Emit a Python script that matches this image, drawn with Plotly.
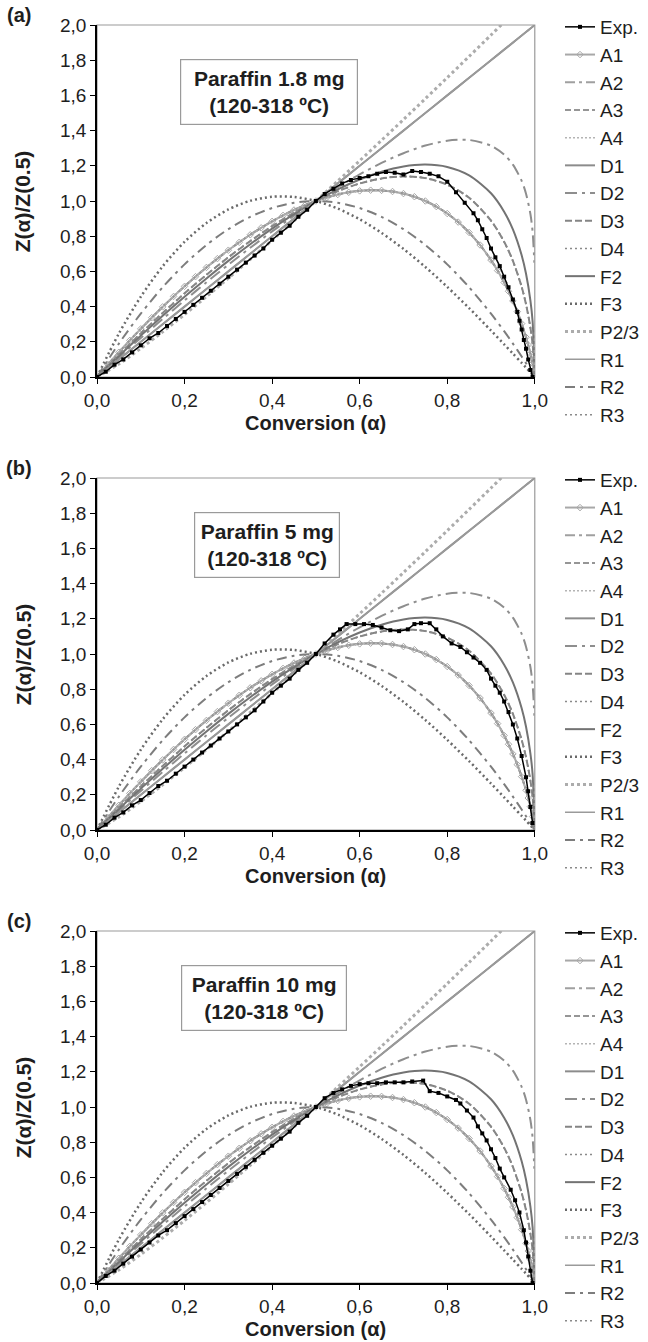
import plotly.graph_objects as go

# ---------------- data ----------------
alpha_model = [0, 0.05, 0.1, 0.15, 0.2, 0.25, 0.3, 0.35, 0.4, 0.45, 0.5, 0.55, 0.6, 0.65,
               0.7, 0.75, 0.8, 0.85, 0.9, 0.93, 0.95, 0.97, 0.98, 0.99, 0.995, 1.0]
alpha_D2 = [0, 0.05, 0.1, 0.15, 0.2, 0.25, 0.3, 0.35, 0.4, 0.45, 0.5, 0.55, 0.6, 0.65,
            0.7, 0.75, 0.8, 0.85, 0.9, 0.93, 0.95, 0.97, 0.98, 0.99, 0.995, 0.999]
alpha_A = [0, 0.025, 0.05, 0.075, 0.1, 0.125, 0.15, 0.175, 0.2, 0.225, 0.25, 0.275, 0.3,
           0.325, 0.35, 0.375, 0.4, 0.425, 0.45, 0.475, 0.5, 0.525, 0.55, 0.575, 0.6, 0.625,
           0.65, 0.675, 0.7, 0.725, 0.75, 0.775, 0.8, 0.825, 0.85, 0.875, 0.9, 0.915, 0.93,
           0.94, 0.95, 0.96, 0.97, 0.98, 0.985, 0.99, 0.995, 1.0]

z_A = [0, 0.0712, 0.1406, 0.2081, 0.2736, 0.3371, 0.3986, 0.4579, 0.5151, 0.5700,
       0.6226, 0.6727, 0.7204, 0.7655, 0.8080, 0.8476, 0.8844, 0.9181, 0.9488, 0.9761,
       1.0, 1.0203, 1.0368, 1.0493, 1.0576, 1.0613, 1.0602, 1.0540, 1.0422, 1.0244,
       1.0, 0.9684, 0.9288, 0.8801, 0.8211, 0.7500, 0.6644, 0.6046, 0.5371, 0.4871,
       0.4322, 0.3715, 0.3035, 0.2258, 0.1818, 0.1329, 0.0764, 0.0]
z_line = [0, 0.1, 0.2, 0.3, 0.4, 0.5, 0.6, 0.7, 0.8, 0.9, 1.0, 1.1, 1.2, 1.3, 1.4, 1.5, 1.6,
          1.7, 1.8, 1.86, 1.9, 1.94, 1.96, 1.98, 1.99, 2.0]
z_P23 = [0, 0.0741, 0.1623, 0.2565, 0.3551, 0.4569, 0.5615, 0.6683, 0.7772, 0.8877, 1.0,
         1.1137, 1.2288, 1.3451, 1.4626, 1.5812, 1.7008, 1.8214, 1.9430, 2.0163, 2.0654,
         2.1141, 2.139, 2.164, 2.17, 0.0]
z_D2 = [0, 0.1120, 0.2220, 0.3297, 0.4351, 0.5378, 0.6377, 0.7342, 0.8271, 0.9160, 1.0,
        1.0790, 1.1514, 1.2162, 1.2716, 1.3150, 1.3424, 1.3468, 1.3144, 1.2640, 1.2070,
        1.1144, 1.0416, 0.9262, 0.8260, 0.65]
z_F2 = [0, 0.1192, 0.2351, 0.3474, 0.4559, 0.5602, 0.6599, 0.7543, 0.8430, 0.9252, 1.0,
        1.0662, 1.1224, 1.1666, 1.1961, 1.2071, 1.1937, 1.1458, 1.0441, 0.9395, 0.8383,
        0.6915, 0.5863, 0.4346, 0.3173, 0.0]
z_D3 = [0, 0.1261, 0.2475, 0.3640, 0.4753, 0.5808, 0.6800, 0.7723, 0.8570, 0.9332, 1.0,
        1.0559, 1.0994, 1.1284, 1.1399, 1.1300, 1.0926, 1.0181, 0.8883, 0.7683, 0.6596,
        0.5121, 0.4131, 0.2802, 0.1865, 0.0]
z_F3 = [0, 0.2470, 0.4560, 0.6290, 0.7680, 0.8750, 0.9520, 1.0010, 1.0240, 1.0230, 1.0,
        0.9570, 0.8960, 0.8190, 0.7280, 0.6250, 0.5120, 0.3910, 0.2640, 0.1858, 0.1330,
        0.0799, 0.0533, 0.0267, 0.0133, 0.0]
z_R2 = [0, 0.19, 0.36, 0.51, 0.64, 0.75, 0.84, 0.91, 0.96, 0.99, 1.0, 0.99, 0.96, 0.91, 0.84,
        0.75, 0.64, 0.51, 0.36, 0.2604, 0.19, 0.1164, 0.0784, 0.0396, 0.0199, 0.0]

exp_a_alpha = [0, 0.02, 0.04, 0.06, 0.08, 0.10, 0.12, 0.14, 0.16, 0.18,
               0.20, 0.22, 0.24, 0.26, 0.28, 0.30, 0.32, 0.34, 0.36, 0.38,
               0.40, 0.42, 0.44, 0.46, 0.48, 0.50, 0.52, 0.54, 0.56, 0.58,
               0.60, 0.62, 0.64, 0.66, 0.68, 0.70, 0.72, 0.74, 0.76, 0.78,
               0.80, 0.82, 0.84, 0.86, 0.87, 0.88, 0.89, 0.90, 0.91, 0.92,
               0.93, 0.94, 0.95, 0.96, 0.965, 0.97, 0.975, 0.98, 0.985, 0.99,
               0.995]
exp_a_z = [0.0, 0.03, 0.07, 0.10, 0.14, 0.18, 0.22, 0.25, 0.29, 0.33,
           0.37, 0.41, 0.45, 0.49, 0.53, 0.57, 0.61, 0.65, 0.69, 0.73,
           0.78, 0.82, 0.86, 0.91, 0.95, 1.00, 1.04, 1.07, 1.10, 1.12,
           1.13, 1.14, 1.155, 1.165, 1.16, 1.15, 1.17, 1.165, 1.155, 1.14,
           1.11, 1.05, 0.99, 0.93, 0.89, 0.84, 0.79, 0.73, 0.68, 0.63,
           0.57, 0.51, 0.44, 0.37, 0.32, 0.27, 0.21, 0.16, 0.10, 0.04,
           0.0]

exp_b_alpha = [0, 0.02, 0.04, 0.06, 0.08, 0.10, 0.12, 0.14, 0.16, 0.18,
               0.20, 0.22, 0.24, 0.26, 0.28, 0.30, 0.32, 0.34, 0.36, 0.38,
               0.40, 0.42, 0.44, 0.46, 0.48, 0.50, 0.52, 0.54, 0.555, 0.57,
               0.59, 0.61, 0.63, 0.65, 0.67, 0.69, 0.71, 0.725, 0.74, 0.76,
               0.775, 0.79, 0.81, 0.83, 0.845, 0.86, 0.875, 0.89, 0.90, 0.91,
               0.92, 0.93, 0.94, 0.95, 0.96, 0.97, 0.98, 0.985, 0.99, 0.995]
exp_b_z = [0.0, 0.03, 0.07, 0.10, 0.14, 0.17, 0.21, 0.25, 0.28, 0.32,
           0.36, 0.40, 0.44, 0.48, 0.52, 0.56, 0.60, 0.64, 0.68, 0.73,
           0.78, 0.82, 0.86, 0.91, 0.95, 1.00, 1.06, 1.11, 1.14, 1.17,
           1.17, 1.17, 1.165, 1.15, 1.135, 1.13, 1.14, 1.17, 1.175, 1.175,
           1.14, 1.10, 1.06, 1.04, 1.01, 0.98, 0.95, 0.91, 0.86, 0.82,
           0.78, 0.73, 0.67, 0.60, 0.52, 0.42, 0.30, 0.22, 0.13, 0.04]

exp_c_alpha = [0, 0.02, 0.04, 0.06, 0.08, 0.10, 0.12, 0.14, 0.16, 0.18,
               0.20, 0.22, 0.24, 0.26, 0.28, 0.30, 0.32, 0.34, 0.36, 0.38,
               0.40, 0.42, 0.44, 0.46, 0.48, 0.50, 0.52, 0.54, 0.56, 0.58,
               0.60, 0.62, 0.64, 0.66, 0.68, 0.70, 0.72, 0.745, 0.76, 0.78,
               0.80, 0.82, 0.83, 0.845, 0.86, 0.87, 0.88, 0.89, 0.90, 0.91,
               0.92, 0.93, 0.945, 0.955, 0.965, 0.975, 0.98, 0.985, 0.99, 0.995]
exp_c_z = [0.0, 0.04, 0.07, 0.11, 0.15, 0.19, 0.23, 0.27, 0.30, 0.34,
           0.38, 0.42, 0.46, 0.50, 0.54, 0.58, 0.62, 0.66, 0.70, 0.74,
           0.78, 0.82, 0.86, 0.91, 0.95, 1.00, 1.05, 1.08, 1.10, 1.12,
           1.13, 1.135, 1.135, 1.14, 1.14, 1.14, 1.145, 1.15, 1.09, 1.08,
           1.06, 1.04, 1.02, 0.98, 0.94, 0.89, 0.85, 0.81, 0.76, 0.71,
           0.65, 0.60, 0.53, 0.47, 0.40, 0.30, 0.23, 0.15, 0.07, 0.0]

panel_letters = ["(a)", "(b)", "(c)"]
panel_boxes = ["Paraffin 1.8 mg<br>(120-318 ºC)", "Paraffin 5 mg<br>(120-318 ºC)",
               "Paraffin 10 mg<br>(120-318 ºC)"]
y_ticks = [0, 0.2, 0.4, 0.6, 0.8, 1.0, 1.2, 1.4, 1.6, 1.8, 2.0]
x_ticks = [0, 0.2, 0.4, 0.6, 0.8, 1.0]

# ---------------- styles ----------------
FONT = "Liberation Sans, Arial, sans-serif"
TXT = "#1e1e1e"
W, H = 648, 1342
ML, MR, MT, MB = 97, 100, 25, 59
STEP = 453
PH = 352
PLOT_H = H - MT - MB

model_styles = [
    # name, x, y, color, dash, width, marker
    ("A1", alpha_A, z_A, "#a8a8a8", "solid", 2.0, "diamond-open"),
    ("A2", alpha_A, z_A, "#a0a0a0", "10px,4px,3px,4px", 2.0, None),
    ("A3", alpha_A, z_A, "#969696", "6px,3px", 2.0, None),
    ("A4", alpha_A, z_A, "#b4b4b4", "2px,2px", 1.5, None),
    ("D1", alpha_model, z_line, "#8c8c8c", "solid", 2.0, None),
    ("D2", alpha_D2, z_D2, "#8e8e8e", "12px,5px,3px,5px", 2.0, None),
    ("D3", alpha_model, z_D3, "#858585", "7px,3px", 2.0, None),
    ("D4", alpha_model, z_D3, "#8a8a8a", "2px,3px", 1.5, None),
    ("F2", alpha_model, z_F2, "#737373", "solid", 2.0, None),
    ("F3", alpha_model, z_F3, "#6a6a6a", "2px,3px", 2.5, None),
    ("P2/3", alpha_model, z_P23, "#acacac", "3px,3px", 3.0, None),
    ("R1", alpha_model, z_line, "#9a9a9a", "solid", 1.5, None),
    ("R2", alpha_model, z_R2, "#7d7d7d", "10px,5px,3px,5px", 2.0, None),
    ("R3", alpha_model, z_D3, "#8a8a8a", "2px,3px", 1.5, None),
]
exp_sets = [(exp_a_alpha, exp_a_z), (exp_b_alpha, exp_b_z), (exp_c_alpha, exp_c_z)]

fig = go.Figure()

def ypx_to_paper(ypx):
    return 1 - (ypx - MT) / PLOT_H

annotations = []
shapes = []
for k in range(3):
    xa = "x" if k == 0 else f"x{k+1}"
    ya = "y" if k == 0 else f"y{k+1}"
    lg = "legend" if k == 0 else f"legend{k+1}"
    top = MT + STEP * k
    bot = top + PH
    dom = [ypx_to_paper(bot), ypx_to_paper(top)]
    axis_common = dict(showgrid=False, zeroline=False, showline=True, linecolor="black",
                       linewidth=1.5, ticks="outside", ticklen=5, tickwidth=1,
                       tickcolor="black", tickformat=".1f",
                       tickfont=dict(family=FONT, size=19, color=TXT))
    fig.update_layout(**{
        ("xaxis" if k == 0 else f"xaxis{k+1}"): dict(domain=[0, 1], range=[0, 1],
                                                    tickvals=x_ticks, anchor=ya, **axis_common),
        ("yaxis" if k == 0 else f"yaxis{k+1}"): dict(domain=dom, range=[0, 2],
                                                    tickvals=y_ticks, anchor=xa, **axis_common),
        lg: dict(xref="container", yref="container", x=560 / W, y=1 - (8 + STEP * k) / H,
                 xanchor="left", yanchor="top", bgcolor="rgba(0,0,0,0)",
                 font=dict(family=FONT, size=19, color=TXT), itemwidth=30,
                 tracegroupgap=0),
    })
    for i, (name, xs, ys, col, dash, wdt, mk) in enumerate(model_styles):
        tr = go.Scatter(x=xs, y=ys, name=name, xaxis=xa, yaxis=ya, legend=lg,
                        mode="lines+markers" if mk else "lines",
                        line=dict(color=col, dash=dash, width=wdt, shape="spline", smoothing=0.8),
                        legendrank=100 + i, showlegend=True)
        if mk:
            tr.marker = dict(symbol=mk, size=5, color=col, line=dict(width=1, color=col))
        fig.add_trace(tr)
    ex, ez = exp_sets[k]
    fig.add_trace(go.Scatter(x=ex, y=ez, name="Exp.", xaxis=xa, yaxis=ya, legend=lg,
                             mode="lines+markers", legendrank=1,
                             line=dict(color="black", width=1.5),
                             marker=dict(symbol="square", size=4, color="black")))
    # gray plot-area border (top/right)
    shapes.append(dict(type="rect", xref=f"{xa} domain", yref=f"{ya} domain", x0=0, x1=1,
                       y0=0, y1=1, line=dict(color="#9a9a9a", width=1.2), layer="below"))
    # info box
    annotations.append(dict(xref=xa, yref=ya, x=[0.392, 0.388, 0.382][k], y=1.622,
                            text=panel_boxes[k], showarrow=False, align="center",
                            font=dict(family=FONT, size=21, color=TXT, weight="bold"),
                            bordercolor="#9a9a9a", borderwidth=1.2, borderpad=3,
                            bgcolor="white", width=[170, 138, 158][k], height=58))
    # panel letter
    annotations.append(dict(xref="paper", yref="paper", x=-ML / (W - ML - MR) + 17 / (W - ML - MR),
                            y=ypx_to_paper(15 + STEP * k), text=f"<b>{panel_letters[k]}</b>",
                            showarrow=False, xanchor="center", yanchor="middle",
                            font=dict(family=FONT, size=20, color=TXT)))
    # y title
    annotations.append(dict(xref="paper", yref="paper", x=(21 - ML) / (W - ML - MR),
                            y=ypx_to_paper(top + PH / 2), text="<b>Z(α)/Z(0.5)</b>",
                            textangle=-90, showarrow=False, xanchor="center", yanchor="middle",
                            font=dict(family=FONT, size=21, color=TXT)))
    # x title
    annotations.append(dict(xref="paper", yref="paper", x=(322 - ML) / (W - ML - MR),
                            y=ypx_to_paper(bot + 46), text="<b>Conversion (α)</b>",
                            showarrow=False, xanchor="center", yanchor="middle",
                            font=dict(family=FONT, size=20, color=TXT)))

fig.update_layout(width=W, height=H, margin=dict(l=ML, r=MR, t=MT, b=MB),
                  paper_bgcolor="white", plot_bgcolor="white", separators=",.",
                  annotations=annotations, shapes=shapes,
                  font=dict(family=FONT, color=TXT))
fig.write_html("out.html")
